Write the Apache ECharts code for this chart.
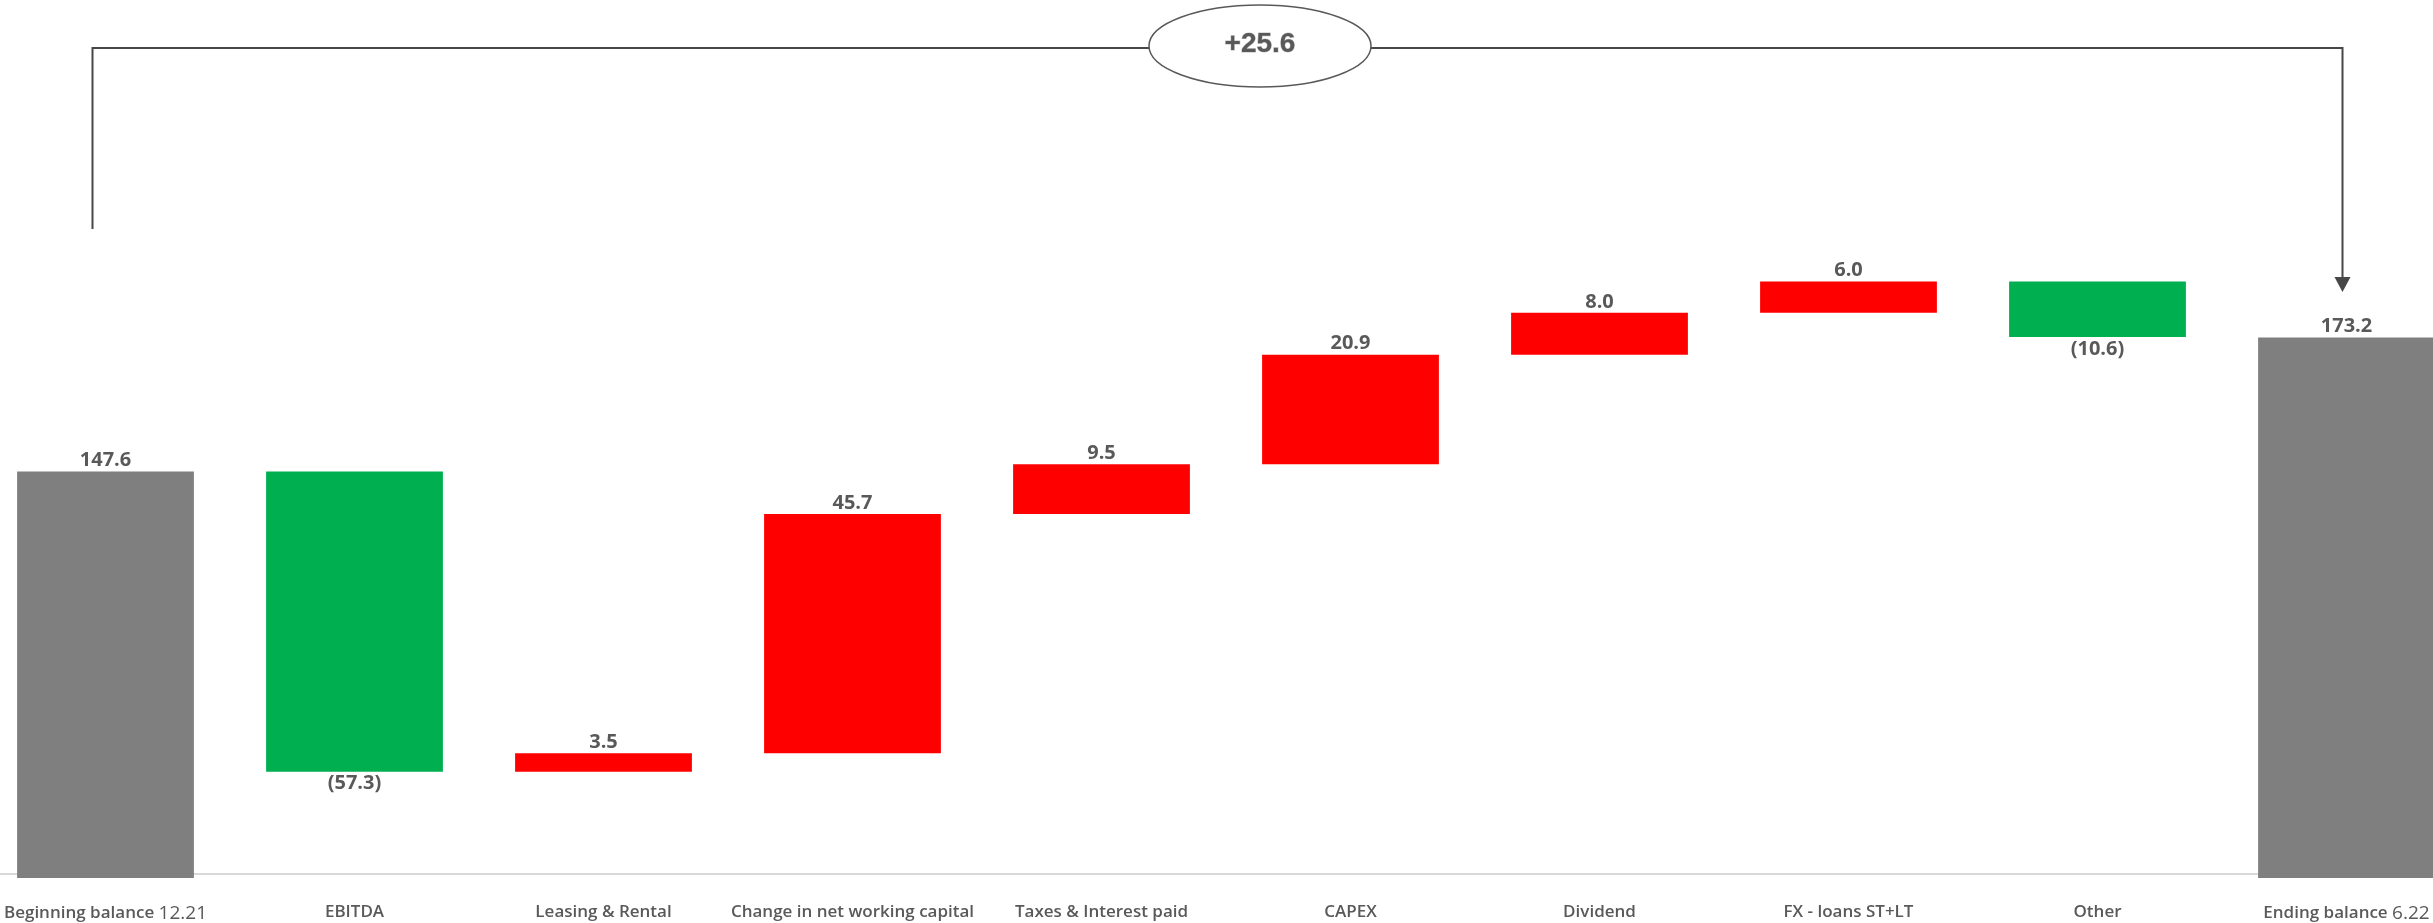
<!DOCTYPE html>
<html>
<head>
<meta charset="utf-8">
<script src="https://cdn.jsdelivr.net/npm/echarts@6/dist/echarts.min.js"></script>
<style>
  html, body { margin: 0; padding: 0; background: #ffffff; overflow: hidden; }
  body { width: 2433px; height: 923px; position: relative; }
  /* the plot runs a little past both page edges */
  #chart { position: absolute; left: -19px; top: 0; width: 2490px; height: 923px; }
</style>
</head>
<body>
<div id="chart"></div>
<script>
// Net debt bridge: opening balance, movements, closing balance
const categories = [
  'Beginning balance 12.21',
  'EBITDA',
  'Leasing & Rental',
  'Change in net working capital',
  'Taxes & Interest paid',
  'CAPEX',
  'Dividend',
  'FX - loans ST+LT',
  'Other',
  'Ending balance 6.22'
];
const beginningBalance = 147.6;
const movements = [-57.3, 3.5, 45.7, 9.5, 20.9, 8.0, 6.0, -10.6];
const endingBalance = 173.2;

const COLOR_TOTAL = '#7f7f7f';
const COLOR_DECREASE = '#00b050';
const COLOR_INCREASE = '#ff0000';
const TEXT_COLOR = '#595959';
const FONT = '"Open Sans", "Noto Sans", sans-serif';
const PAGE_SHIFT = 19; // chart container starts this far left of the page

// Build the invisible base and the visible floating segments
const baseData = [];
const barData = [];
const topLabel = { position: 'top', distance: 1 };
const bottomLabel = { position: 'bottom', distance: 2 };

baseData.push(0);
barData.push({
  value: beginningBalance,
  itemStyle: { color: COLOR_TOTAL },
  label: Object.assign({ formatter: beginningBalance.toFixed(1) }, topLabel)
});

let running = beginningBalance;
movements.forEach(function (m) {
  const next = running + m;
  const low = Math.min(running, next);
  baseData.push(low);
  const isDecrease = m < 0;
  barData.push({
    value: Math.abs(m),
    itemStyle: { color: isDecrease ? COLOR_DECREASE : COLOR_INCREASE },
    label: Object.assign(
      { formatter: isDecrease ? '(' + Math.abs(m).toFixed(1) + ')' : m.toFixed(1) },
      isDecrease ? bottomLabel : topLabel
    )
  });
  running = next;
});

baseData.push(0);
barData.push({
  value: endingBalance,
  itemStyle: { color: COLOR_TOTAL },
  label: Object.assign({ formatter: endingBalance.toFixed(1) }, topLabel)
});

const chart = echarts.init(document.getElementById('chart'), null, { renderer: 'canvas' });

chart.setOption({
  animation: false,
  backgroundColor: '#ffffff',
  grid: { left: 0, right: 0, top: 40, bottom: 44, containLabel: false },
  xAxis: {
    type: 'category',
    data: categories,
    offset: -4,
    axisTick: { show: false },
    axisLine: { lineStyle: { color: '#d9d9d9', width: 2 } },
    axisLabel: {
      interval: 0,
      margin: 30,
      color: TEXT_COLOR,
      fontFamily: FONT,
      fontSize: 17,
      fontWeight: 600,
      formatter: function (v) {
        const m = v.match(/^(.*?)\s+(\d+\.\d+)$/);
        if (m) return m[1] + ' {n|' + m[2] + '}';
        return v;
      },
      rich: {
        n: { fontFamily: FONT, fontSize: 19, fontWeight: 'normal', color: TEXT_COLOR }
      }
    }
  },
  yAxis: {
    type: 'value',
    min: 70,
    max: 230,
    show: false,
    splitLine: { show: false }
  },
  series: [
    {
      type: 'bar',
      stack: 'bridge',
      data: baseData,
      itemStyle: { color: 'transparent' },
      silent: true,
      barCategoryGap: '29%'
    },
    {
      type: 'bar',
      stack: 'bridge',
      data: barData,
      barCategoryGap: '29%',
      label: {
        show: true,
        color: TEXT_COLOR,
        fontFamily: FONT,
        fontSize: 20,
        fontWeight: 'bold'
      }
    }
  ]
});

// Bracket with the overall change between opening and closing balances
const startX = chart.convertToPixel({ xAxisIndex: 0 }, 0) - 13;
const endX = chart.convertToPixel({ xAxisIndex: 0 }, categories.length - 1) - 4;
const lineY = 48;
const leftBottom = 229;
const arrowTip = 292;
const ovalCx = 1260 + PAGE_SHIFT;
const ovalCy = 46;
const ovalRx = 111;
const ovalRy = 41;
const change = endingBalance - beginningBalance;
const changeText = (change >= 0 ? '+' : '') + change.toFixed(1);
const LINE = '#474747';

chart.setOption({
  graphic: [
    {
      type: 'polyline',
      shape: { points: [[startX, leftBottom], [startX, lineY], [ovalCx - ovalRx, lineY]] },
      style: { stroke: LINE, lineWidth: 2, fill: null }
    },
    {
      type: 'polyline',
      shape: { points: [[ovalCx + ovalRx, lineY], [endX, lineY], [endX, arrowTip - 14]] },
      style: { stroke: LINE, lineWidth: 2, fill: null }
    },
    {
      type: 'polygon',
      shape: { points: [[endX - 8, arrowTip - 15], [endX + 8, arrowTip - 15], [endX, arrowTip]] },
      style: { fill: LINE }
    },
    {
      type: 'ellipse',
      shape: { cx: ovalCx, cy: ovalCy, rx: ovalRx, ry: ovalRy },
      style: { fill: '#ffffff', stroke: '#595959', lineWidth: 1.5 }
    },
    {
      type: 'text',
      x: ovalCx,
      y: ovalCy - 2,
      style: {
        text: changeText,
        fill: '#595959',
        stroke: '#bfbfbf',
        lineWidth: 1,
        font: 'bold 28px "Liberation Sans", Arial, sans-serif',
        textAlign: 'center',
        textVerticalAlign: 'middle'
      }
    }
  ]
});
</script>
</body>
</html>
